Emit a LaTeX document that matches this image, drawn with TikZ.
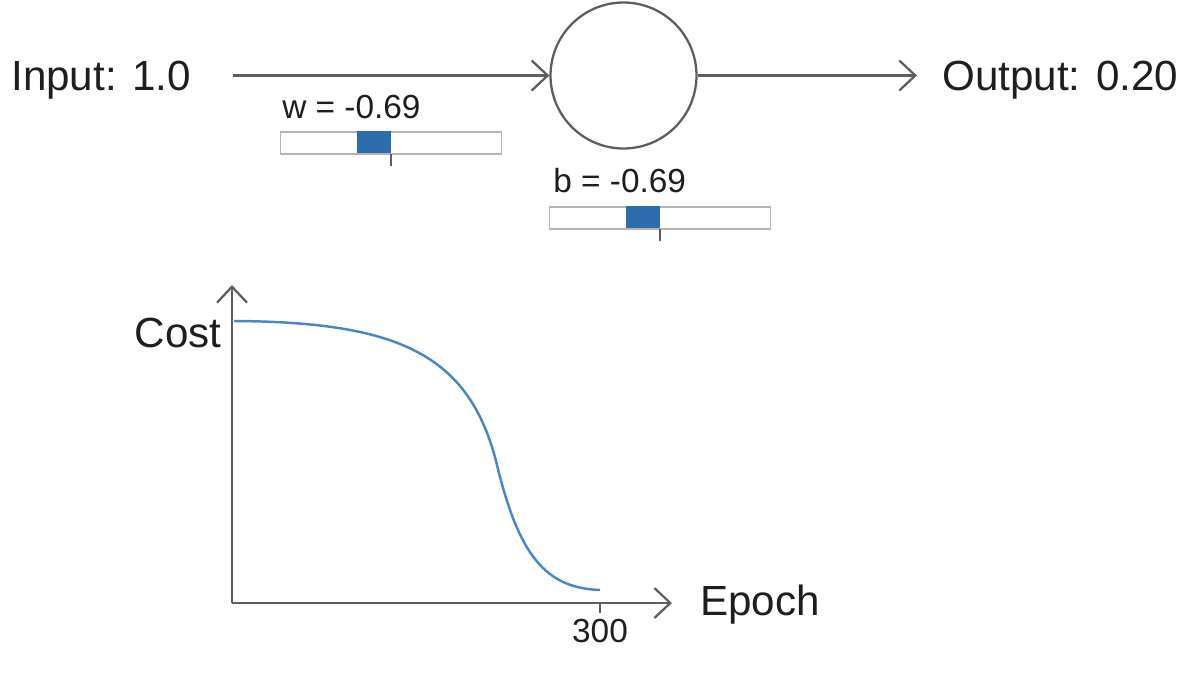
\documentclass[tikz,border=0pt]{standalone}
\usepackage{fontspec}
\setmainfont{Liberation Sans}
\usetikzlibrary{arrows.meta, positioning, calc}
\definecolor{line_gray}{HTML}{5E5E5E}
\definecolor{text_dark}{HTML}{1E1E1E}
\definecolor{slider_gray}{HTML}{B4B4B4}
\definecolor{handle_blue}{HTML}{2E6DAD}
\definecolor{curve_blue}{HTML}{4A86C5}
\tikzset{
  big_label/.style={font=\fontsize{24}{28}\selectfont, text=text_dark, inner sep=0pt},
  small_label/.style={font=\fontsize{19}{22}\selectfont, text=text_dark, inner sep=0pt},
  neuron/.style={circle, draw=line_gray, line width=1.3pt, minimum size=2.92cm, inner sep=0pt},
  slider/.style={rectangle, draw=slider_gray, line width=1.1pt, minimum width=4.42cm, minimum height=0.44cm, inner sep=0pt},
  handle/.style={rectangle, fill=handle_blue, minimum width=0.68cm, minimum height=0.44cm, inner sep=0pt, anchor=north east},
  arrow/.style={-{Straight Barb[length=0.32cm, width=0.6cm]}, line width=1.3pt, line_gray},
  axis_style/.style={arrow},
  tick_style/.style={line width=1.3pt, line_gray},
  cost_curve/.style={line width=1.4pt, curve_blue}
}

\begin{document}
\begin{tikzpicture}[x=0.02cm, y=-0.02cm]
    \useasboundingbox (0,0) rectangle (1196,674);

    % --- Neuron ---
    \node[neuron] (neuron) at (623.5,75.5) {};
    \node[big_label, anchor=base west] (input) at (11,90) {Input: 1.0};
    \node[big_label, anchor=base west] (output) at (942,90) {Output: 0.20};

    \draw[arrow, shorten <=0.84cm] (input.east |- neuron.west) -- (neuron.west);
    \draw[arrow, shorten >=0.5cm] (neuron.east) -- (neuron.east -| output.west);

    % --- Sliders ---
    \node[small_label, anchor=base west] (w_label) at (282,118) {w = -0.69};
    \node[slider] (w_slider) at (391,143) {};
    \node[handle] (w_handle) at (w_slider.north) {};
    \draw[tick_style] (w_handle.south east) -- ++(0,12);

    \node[small_label, anchor=base west] (b_label) at (553,192) {b = -0.69};
    \node[slider] (b_slider) at (660,218) {};
    \node[handle] (b_handle) at (b_slider.north) {};
    \draw[tick_style] (b_handle.south east) -- ++(0,12);

    % --- Cost plot ---
    \coordinate (origin) at (232,603);
    \coordinate (y_end) at (232,285);
    \coordinate (x_end) at (672,603);
    \draw[axis_style] (origin) -- (y_end);
    \draw[axis_style] (origin) -- (x_end);

    \coordinate (tick300) at (600,603);
    \draw[tick_style] (tick300) -- ++(0,10);
    \node[small_label, anchor=base] (tick_label) at (600,642) {300};
    \node[big_label, anchor=base west] (epoch_label) at (700,615) {Epoch};
    \node[big_label, anchor=base east] (cost_label) at (222,347) {Cost};

    \draw[cost_curve] (234,321) .. controls (400,322) and (470,355) .. (497,465)
                                .. controls (519,555) and (545,588) .. (600,590);
\end{tikzpicture}
\end{document}
